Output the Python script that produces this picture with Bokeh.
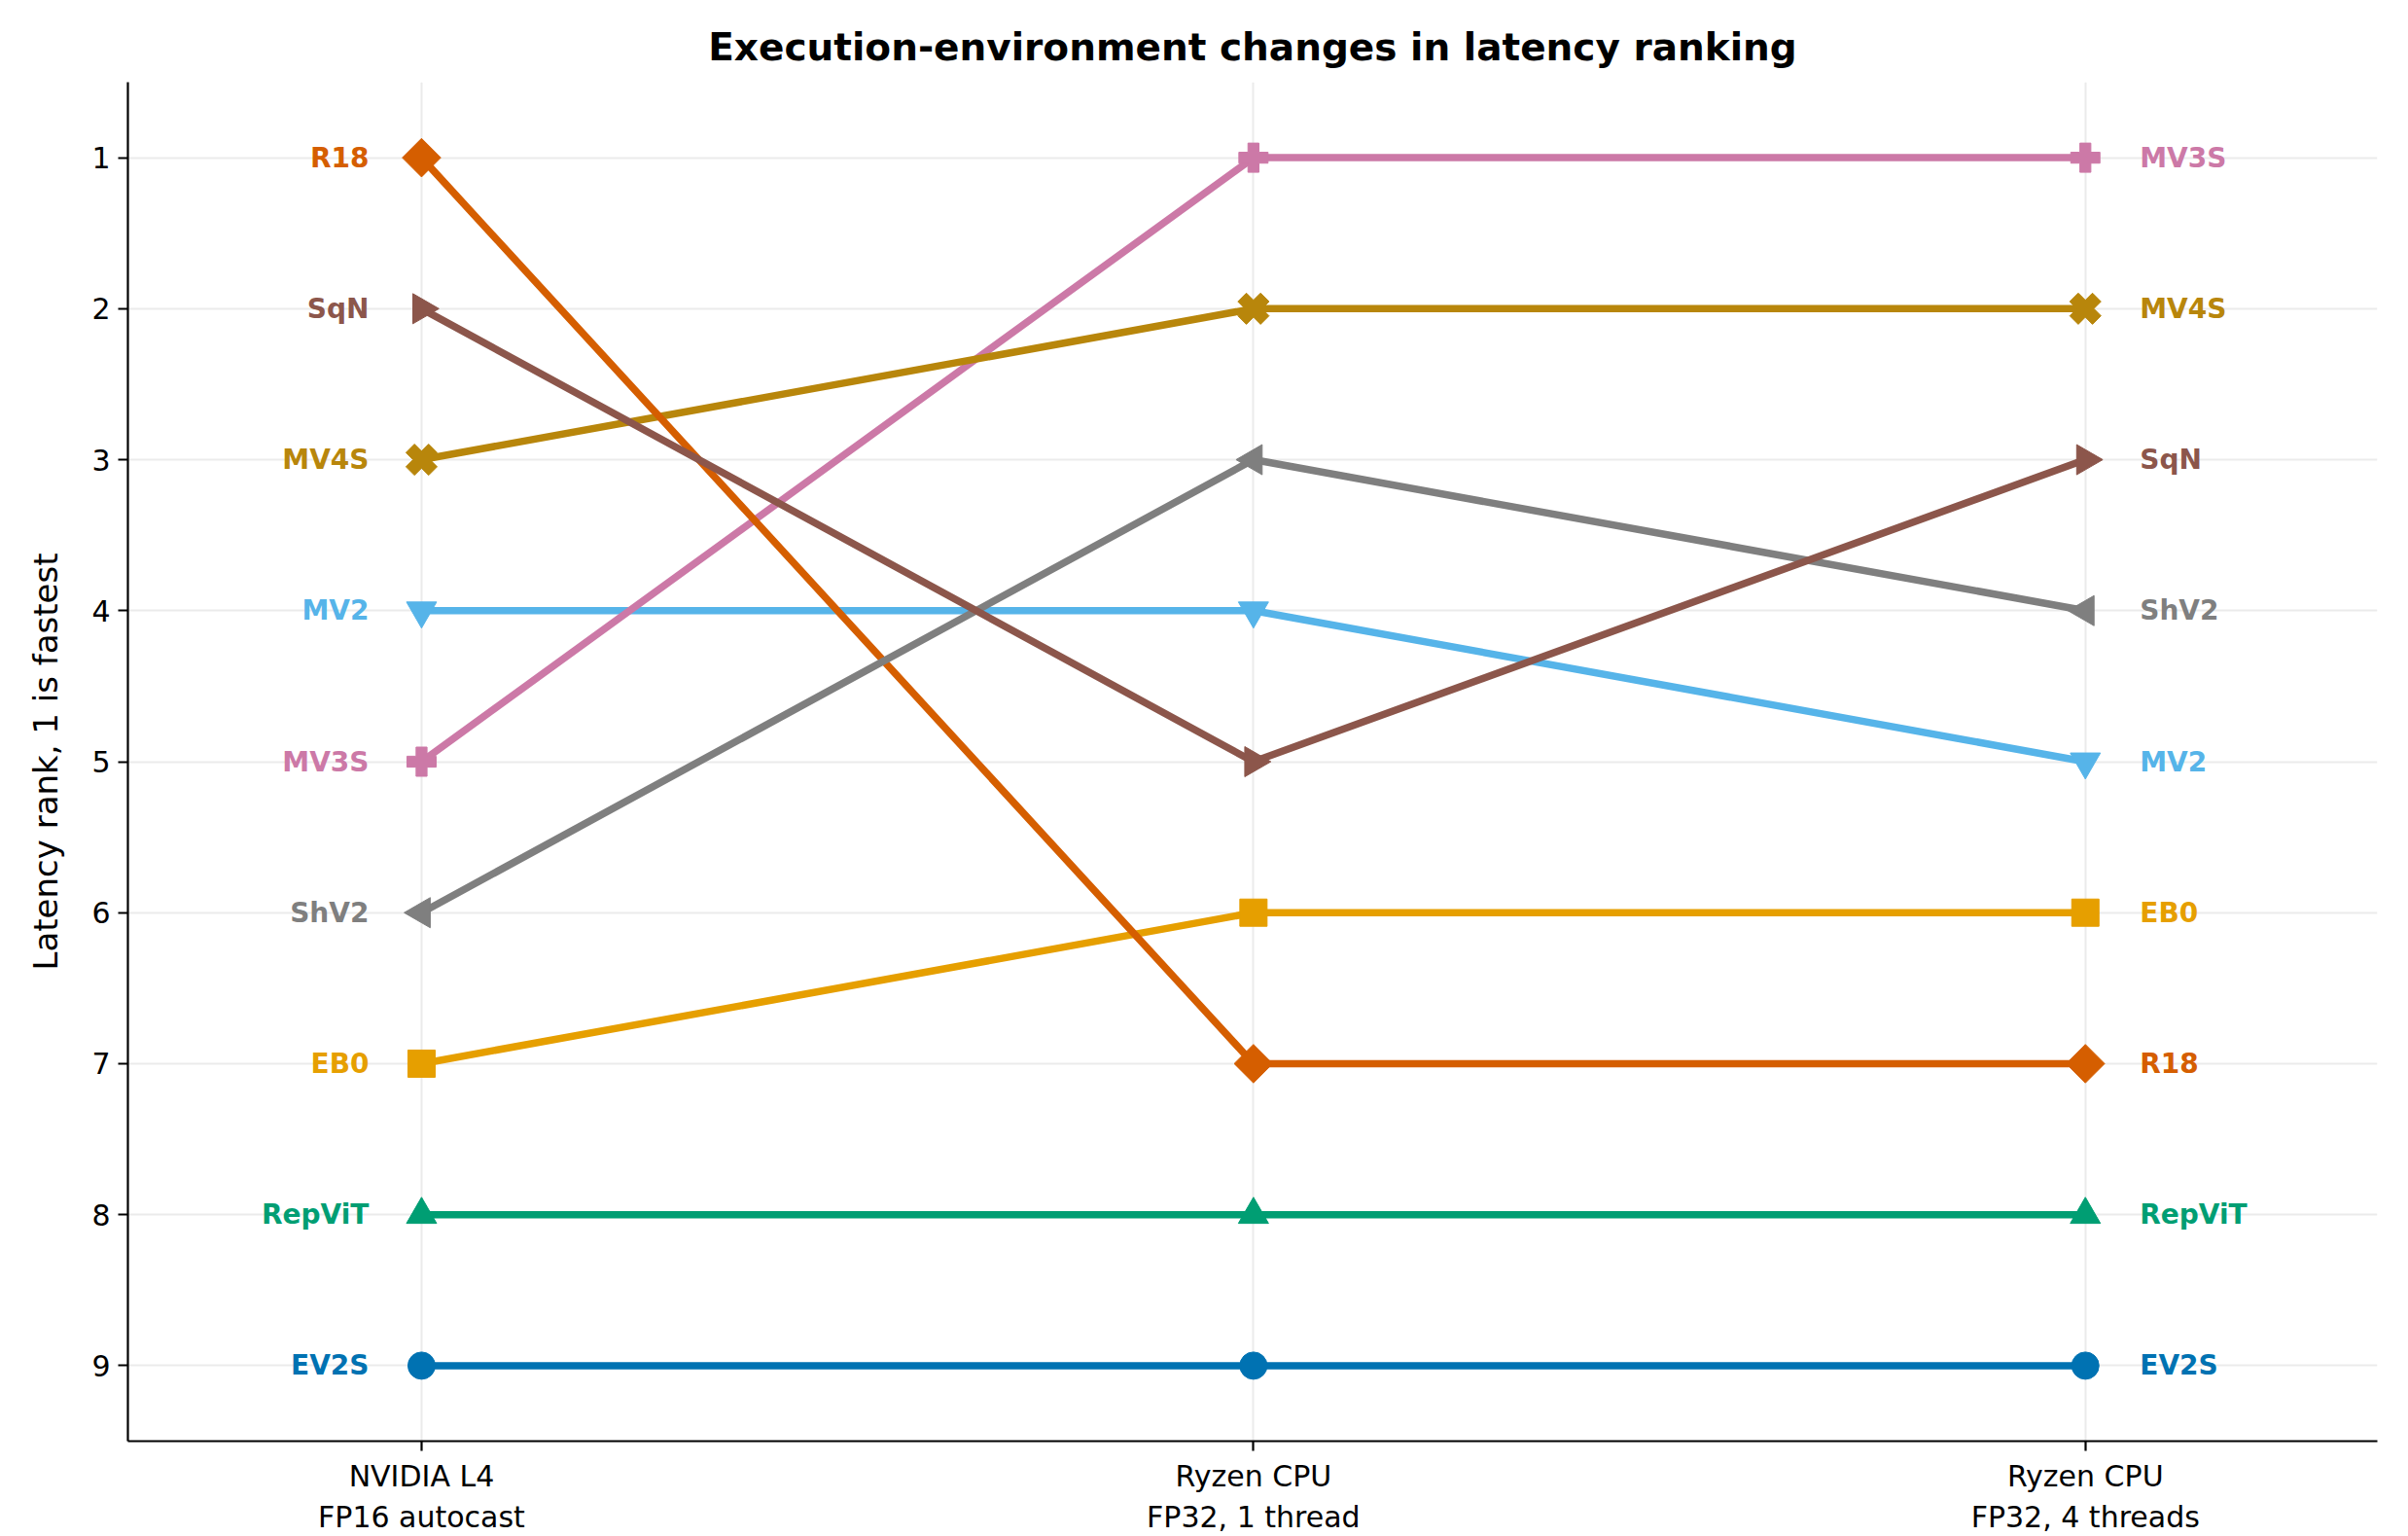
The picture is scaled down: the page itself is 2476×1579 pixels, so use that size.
import math
from bokeh.plotting import figure
from bokeh.models import ColumnDataSource, FixedTicker, Range1d
from bokeh.core.properties import value
from bokeh.embed import file_html
from bokeh.resources import INLINE

# ---- data ----
environments = ["NVIDIA L4\nFP16 autocast", "Ryzen CPU\nFP32, 1 thread", "Ryzen CPU\nFP32, 4 threads"]
models = ["EB0", "EV2S", "MV2", "MV3S", "MV4S", "R18", "RepViT", "ShV2", "SqN"]
rank_l4 = [7, 9, 4, 5, 3, 1, 8, 6, 2]
rank_cpu1 = [6, 9, 4, 1, 2, 7, 8, 3, 5]
rank_cpu4 = [6, 9, 5, 1, 2, 7, 8, 4, 3]
rank_ticks = [1, 2, 3, 4, 5, 6, 7, 8, 9]

# ---- styles ----
colors = {
    "EB0": "#E69F00", "EV2S": "#0072B2", "MV2": "#56B4E9", "MV3S": "#CC79A7",
    "MV4S": "#B8860B", "R18": "#D55E00", "RepViT": "#009E73", "ShV2": "#7F7F7F",
    "SqN": "#8C564B",
}
marker_style = {
    "EB0": ("square", 0.0, 28),
    "EV2S": ("circle", 0.0, 28),
    "MV2": ("inverted_triangle", 0.0, 31),
    "MV3S": ("plus", 0.0, 30),
    "MV4S": ("plus", math.pi / 4, 33),
    "R18": ("square", math.pi / 4, 28),
    "RepViT": ("triangle", 0.0, 31),
    "ShV2": ("triangle", math.pi / 2, 31),
    "SqN": ("triangle", -math.pi / 2, 31),
}

FONT = "DejaVu Sans"

p = figure(width=2476, height=1579,
           x_range=Range1d(-0.353, 2.351), y_range=Range1d(9.5, 0.5),
           output_backend="svg", toolbar_location=None,
           min_border_left=131, min_border_right=32,
           min_border_top=84, min_border_bottom=98)

p.title.text = "Execution-environment changes in latency ranking"
p.title.text_font = FONT
p.title.text_font_size = "39px"
p.title.text_font_style = "bold"
p.title.text_color = "black"
p.title.align = "center"
p.title.standoff = 27

p.outline_line_color = None
p.background_fill_color = "white"

# grid
for g in (p.xgrid, p.ygrid):
    g.grid_line_color = "#ebebeb"
    g.grid_line_width = 2
p.xgrid.ticker = FixedTicker(ticks=[0, 1, 2])
p.ygrid.ticker = FixedTicker(ticks=rank_ticks)

# axes
p.xaxis.ticker = FixedTicker(ticks=[0, 1, 2])
p.xaxis.major_label_overrides = {i: lab for i, lab in enumerate(environments)}
p.yaxis.ticker = FixedTicker(ticks=rank_ticks)
p.yaxis.axis_label = "Latency rank, 1 is fastest"
for ax in (p.xaxis[0], p.yaxis[0]):
    ax.axis_line_width = 2.2
    ax.axis_line_color = "black"
    ax.major_tick_line_width = 2.2
    ax.major_tick_line_color = "black"
    ax.major_tick_in = 0
    ax.major_tick_out = 10
    ax.minor_tick_line_color = None
    ax.major_label_text_font = FONT
    ax.major_label_text_font_size = "30px"
    ax.major_label_text_color = "black"
    ax.major_label_standoff = 8
p.yaxis.axis_label_text_font = FONT
p.yaxis.axis_label_text_font_size = "34px"
p.yaxis.axis_label_text_font_style = "normal"
p.yaxis.axis_label_text_color = "black"
p.yaxis.axis_label_standoff = 24

xs = [0, 1, 2]
for i, m in enumerate(models):
    ranks = [rank_l4[i], rank_cpu1[i], rank_cpu4[i]]
    src = ColumnDataSource(dict(x=xs, y=ranks))
    c = colors[m]
    p.line("x", "y", source=src, line_color=c, line_width=7.5)
    mk, ang, sz = marker_style[m]
    p.scatter("x", "y", source=src, marker=mk, angle=ang, size=sz,
              fill_color=c, line_color=c, line_width=1)

# side labels
lab_src_left = ColumnDataSource(dict(
    x=[0] * len(models), y=rank_l4, t=models, c=[colors[m] for m in models]))
lab_src_right = ColumnDataSource(dict(
    x=[2] * len(models), y=rank_cpu4, t=models, c=[colors[m] for m in models]))
p.text("x", "y", text="t", source=lab_src_left, text_color="c",
       text_font=value(FONT), text_font_size="28px", text_font_style="bold",
       text_align="right", text_baseline="middle", x_offset=-54)
p.text("x", "y", text="t", source=lab_src_right, text_color="c",
       text_font=value(FONT), text_font_size="28px", text_font_style="bold",
       text_align="left", text_baseline="middle", x_offset=56)

open("out.html", "w").write(file_html(p, INLINE))
